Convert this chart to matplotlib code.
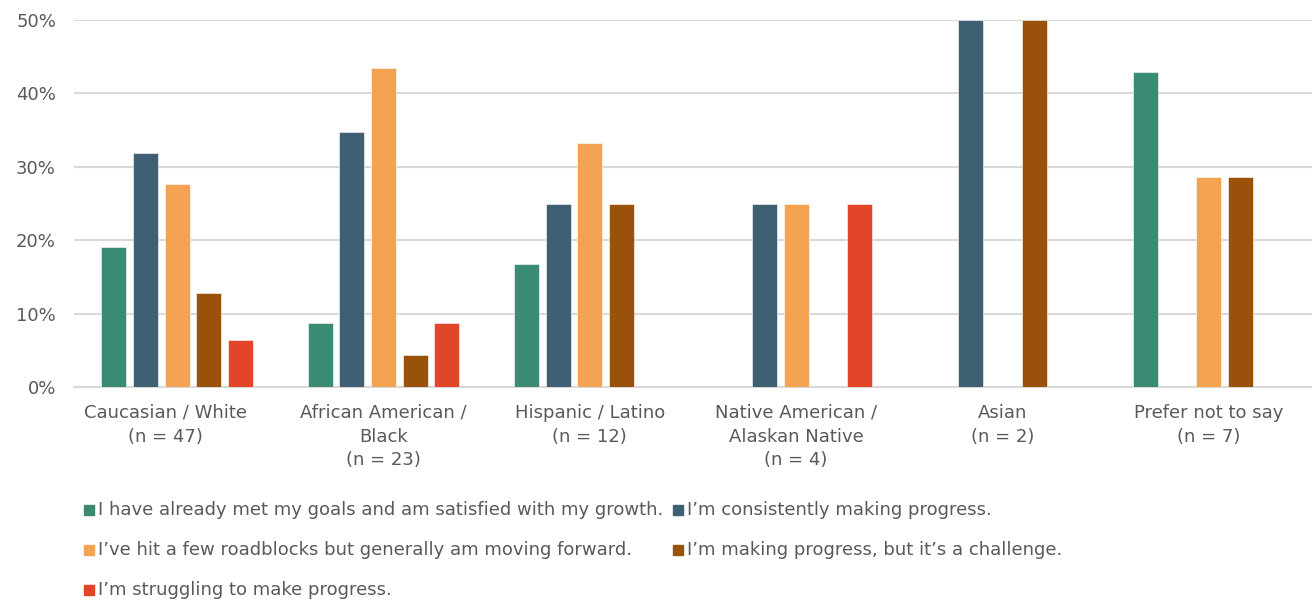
import matplotlib
matplotlib.use("Agg")
import matplotlib.pyplot as plt
import numpy as np
from matplotlib.patches import Rectangle
from matplotlib.transforms import ScaledTranslation

categories = ["Caucasian / White\n(n = 47)", "African American /\nBlack\n(n = 23)",
              "Hispanic / Latino\n(n = 12)", "Native American /\nAlaskan Native\n(n = 4)",
              "Asian\n(n = 2)", "Prefer not to say\n(n = 7)"]
series_names = ["I have already met my goals and am satisfied with my growth.",
                "I\u2019m consistently making progress.",
                "I\u2019ve hit a few roadblocks but generally am moving forward.",
                "I\u2019m making progress, but it\u2019s a challenge.",
                "I\u2019m struggling to make progress."]
met_goals = [19.1, 8.7, 16.7, 0, 0, 42.9]
consistent = [31.9, 34.8, 25.0, 25.0, 50.0, 0]
roadblocks = [27.7, 43.5, 33.3, 25.0, 0, 28.6]
challenge = [12.8, 4.3, 25.0, 0, 50.0, 28.6]
struggling = [6.4, 8.7, 0, 25.0, 0, 0]
series = [met_goals, consistent, roadblocks, challenge, struggling]
colors = ["#3B8A73", "#3F6073", "#F4A352", "#9A520A", "#E04627"]
yticks = [0, 10, 20, 30, 40, 50]

plt.rcParams['font.family'] = ['DejaVu Sans']
txt = "#595959"
fs = 13

fig = plt.figure(figsize=(13.12, 6.02), dpi=100)
W, H = 1312, 602
ax = fig.add_axes([74 / W, (H - 387) / H, (1312 - 74) / W, (387 - 20) / H])

x = np.arange(len(categories))
pitch = 0.1535
bw = 0.121
for i, (vals, c) in enumerate(zip(series, colors)):
    ax.bar(x + (i - 2) * pitch, vals, width=bw, color=c, zorder=3,
           edgecolor="white", linewidth=0.4)

ax.set_xlim(-0.5, len(categories) - 0.5)
ax.set_ylim(0, 50)
ax.set_yticks(yticks)
ax.set_yticklabels([f"{v}%" for v in yticks])
ax.set_xticks(x)
ax.set_xticklabels(categories)
ax.yaxis.grid(True, color="#D9D9D9", linewidth=1.5, zorder=0)
ax.set_axisbelow(True)
for s in ["top", "right", "left"]:
    ax.spines[s].set_visible(False)
ax.spines["bottom"].set_color("#D9D9D9")
ax.spines["bottom"].set_linewidth(1.5)
ax.tick_params(axis="both", length=0, labelsize=fs, colors=txt)
ax.tick_params(axis="y", pad=13)
ax.tick_params(axis="x", pad=12)
for lab in ax.get_xticklabels():
    lab.set_linespacing(1.42)
first = ax.xaxis.get_major_ticks()[0].label1
first.set_transform(first.get_transform() + ScaledTranslation(-0.12, 0, fig.dpi_scale_trans))

# legend laid out manually
pos = [(84, 510), (673, 510), (84, 550), (673, 550), (84, 590)]
for (px, py), name, c in zip(pos, series_names, colors):
    fig.patches.append(Rectangle((px / W, (H - py - 5) / H), 10 / W, 10 / H,
                                 transform=fig.transFigure, color=c))
    fig.text((px + 14) / W, (H - py) / H, name, fontsize=fs, color=txt,
             va="center", ha="left")

fig.savefig("out.png", dpi=100)
